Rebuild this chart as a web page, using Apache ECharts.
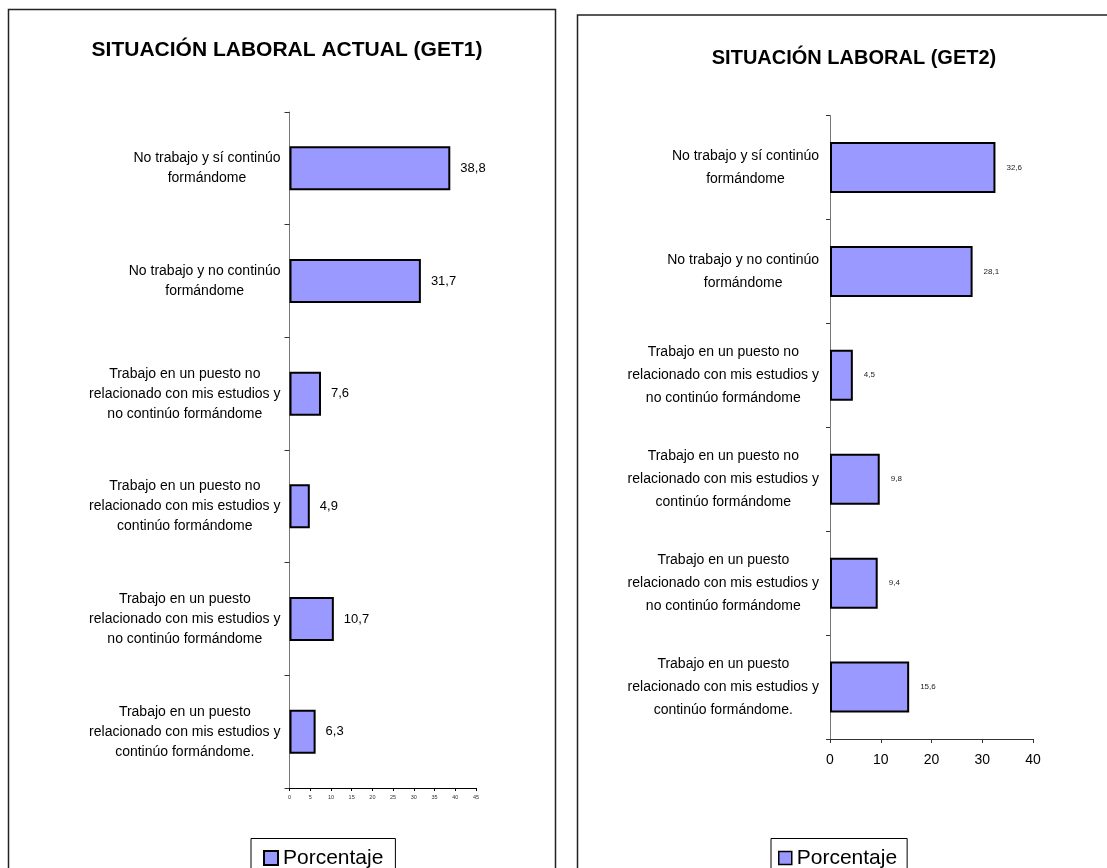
<!DOCTYPE html>
<html>
<head>
<meta charset="utf-8">
<title>Situación laboral</title>
<script src="https://cdn.jsdelivr.net/npm/echarts@6/dist/echarts.min.js"></script>
<style>
  html, body { margin: 0; padding: 0; background: #ffffff; }
  #chart { width: 1107px; height: 868px; }
</style>
</head>
<body>
<div id="chart"></div>
<script>
// Response categories, listed top to bottom
const categories = [
  'No trabajo y sí continúo\nformándome',
  'No trabajo y no continúo\nformándome',
  'Trabajo en un puesto no\nrelacionado con mis estudios y\nno continúo formándome',
  'Trabajo en un puesto no\nrelacionado con mis estudios y\ncontinúo formándome',
  'Trabajo en un puesto\nrelacionado con mis estudios y\nno continúo formándome',
  'Trabajo en un puesto\nrelacionado con mis estudios y\ncontinúo formándome.'
];

// Percentages per group
const get1Values = [38.8, 31.7, 7.6, 4.9, 10.7, 6.3];
const get2Values = [32.6, 28.1, 4.5, 9.8, 9.4, 15.6];

// Value-axis ranges (tick labels follow from min/max/step)
const get1Axis = { min: 0, max: 45, step: 5 };
const get2Axis = { min: 0, max: 40, step: 10 };

const titles = ['SITUACIÓN LABORAL ACTUAL (GET1)', 'SITUACIÓN LABORAL (GET2)'];
const seriesName = 'Porcentaje';

const FONT = 'Liberation Sans, Arial, Helvetica, sans-serif';
const BAR_FILL = '#9999FF';

const comma = v => String(v).replace('.', ',');

// Multi-line category labels: block anchored right of the axis, lines centred inside it
function categoryLabel(fontSize, lineHeight, margin) {
  return {
    align: 'right',
    margin: margin,
    color: '#000',
    fontFamily: FONT,
    fontSize: fontSize,
    lineHeight: lineHeight,
    formatter: v => v.split('\n').map(l => '{c|' + l + '}').join('\n'),
    rich: { c: { align: 'center', fontFamily: FONT, fontSize: fontSize, lineHeight: lineHeight, color: '#000' } }
  };
}

const chart = echarts.init(document.getElementById('chart'), null, { renderer: 'canvas' });

chart.setOption({
  backgroundColor: '#ffffff',
  animation: false,
  graphic: [
    { type: 'rect', z: -10, shape: { x: 8.5, y: 9.5, width: 547, height: 900 },
      style: { fill: 'none', stroke: '#222', lineWidth: 1.5 } },
    { type: 'rect', z: -10, shape: { x: 577.5, y: 15, width: 600, height: 900 },
      style: { fill: 'none', stroke: '#222', lineWidth: 1.5 } }
  ],
  title: [
    { text: titles[0], left: 282, top: 35, textAlign: 'center',
      textStyle: { fontFamily: FONT, fontSize: 21, fontWeight: 'bold', color: '#000' } },
    { text: titles[1], left: 849, top: 43, textAlign: 'center',
      textStyle: { fontFamily: FONT, fontSize: 20, fontWeight: 'bold', color: '#000' } }
  ],
  legend: [
    { data: [seriesName], left: 251, top: 838.5, orient: 'horizontal',
      padding: [9, 12, 9, 12], borderColor: '#000', borderWidth: 1,
      itemWidth: 14, itemHeight: 14, icon: 'rect', selectedMode: false,
      itemStyle: { color: BAR_FILL, borderColor: '#000', borderWidth: 2 },
      textStyle: { fontFamily: FONT, fontSize: 21, color: '#000' } },
    { data: [seriesName], left: 771, top: 838.5, orient: 'horizontal',
      padding: [9, 10, 9, 7], borderColor: '#000', borderWidth: 1,
      itemWidth: 13, itemHeight: 13, icon: 'rect', selectedMode: false,
      itemStyle: { color: BAR_FILL, borderColor: '#000', borderWidth: 1.5 },
      textStyle: { fontFamily: FONT, fontSize: 21, color: '#000' } }
  ],
  grid: [
    { left: 289.5, top: 112, width: 186.5, height: 676 },
    { left: 830, top: 115.5, width: 203, height: 623.5 }
  ],
  xAxis: [
    { type: 'value', gridIndex: 0, min: get1Axis.min, max: get1Axis.max, interval: get1Axis.step,
      splitLine: { show: false },
      axisLine: { show: true, lineStyle: { color: '#000', width: 1 } },
      axisTick: { show: true, length: 3, lineStyle: { color: '#000' } },
      axisLabel: { fontFamily: FONT, fontSize: 5.5, color: '#333', margin: 6 } },
    { type: 'value', gridIndex: 1, min: get2Axis.min, max: get2Axis.max, interval: get2Axis.step,
      splitLine: { show: false },
      axisLine: { show: true, lineStyle: { color: '#333', width: 1 } },
      axisTick: { show: true, length: 4, lineStyle: { color: '#333' } },
      axisLabel: { fontFamily: FONT, fontSize: 14, color: '#000', margin: 14 } }
  ],
  yAxis: [
    { type: 'category', gridIndex: 0, data: categories, inverse: true,
      axisLine: { show: true, lineStyle: { color: '#777', width: 1 } },
      axisTick: { show: true, length: 5, lineStyle: { color: '#333' } },
      axisLabel: categoryLabel(14, 20, 9) },
    { type: 'category', gridIndex: 1, data: categories, inverse: true,
      axisLine: { show: true, lineStyle: { color: '#777', width: 1 } },
      axisTick: { show: true, length: 4, lineStyle: { color: '#333' } },
      axisLabel: categoryLabel(14, 23, 11) }
  ],
  series: [
    { name: seriesName, type: 'bar', xAxisIndex: 0, yAxisIndex: 0, data: get1Values,
      barWidth: 44,
      itemStyle: { color: BAR_FILL, borderColor: '#000', borderWidth: 2 },
      label: { show: true, position: 'right', distance: 10, formatter: p => comma(p.value),
        fontFamily: FONT, fontSize: 13, color: '#000' } },
    { name: seriesName, type: 'bar', xAxisIndex: 1, yAxisIndex: 1, data: get2Values,
      barWidth: 51,
      itemStyle: { color: BAR_FILL, borderColor: '#000', borderWidth: 2 },
      label: { show: true, position: 'right', distance: 11, formatter: p => comma(p.value),
        fontFamily: FONT, fontSize: 8, color: '#222' } }
  ]
});
</script>
</body>
</html>
